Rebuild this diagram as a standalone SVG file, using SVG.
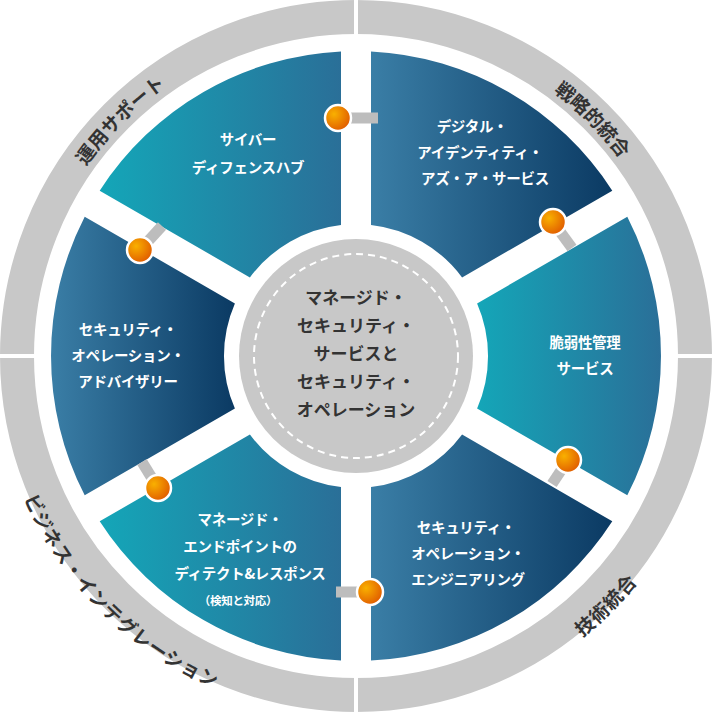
<svg xmlns="http://www.w3.org/2000/svg" width="712" height="712" viewBox="0 0 712 712">
<style>
.seg-t{font-family:"Noto Sans CJK JP","Noto Sans",sans-serif;font-weight:bold;font-size:14.5px;fill:#fff;text-anchor:middle;letter-spacing:-0.3px}
.ctr{font-family:"Noto Sans CJK JP","Noto Sans",sans-serif;font-weight:bold;font-size:17px;fill:#333;text-anchor:middle}
.ring-t{font-family:"Noto Sans CJK JP","Noto Sans",sans-serif;font-weight:bold;font-size:19px;fill:#333;text-anchor:middle}
.bar{stroke:#bdbdbd;stroke-width:11}
.dot{fill:url(#gOr);stroke:#fff;stroke-width:2.5}
</style>
<defs>
<linearGradient id="gTeal" x1="0" y1="0" x2="1" y2="0"><stop offset="0" stop-color="#14a6b8"/><stop offset="1" stop-color="#2a6f98"/></linearGradient>
<linearGradient id="gNavy" x1="0" y1="0" x2="1" y2="0"><stop offset="0" stop-color="#3a7ea6"/><stop offset="1" stop-color="#0b3a63"/></linearGradient>
<linearGradient id="gNavyR" x1="1" y1="0" x2="0" y2="0"><stop offset="0" stop-color="#0b3a63"/><stop offset="1" stop-color="#3a7ea6"/></linearGradient>
<radialGradient id="gOr" cx="0.35" cy="0.35" r="0.7"><stop offset="0" stop-color="#f9b000"/><stop offset="1" stop-color="#e05a00"/></radialGradient>
<path id="arcTop" d="M 26,356 A 330 330 0 0 1 686,356"/>
<path id="arcBot" d="M 8,356 A 348 348 0 0 0 704,356"/>
</defs>
<rect width="712" height="712" fill="#fff"/>
<g id="outer-ring">
<circle cx="356" cy="356" r="339" fill="none" stroke="#c8c8c8" stroke-width="34"/>
<line x1="356" y1="0" x2="356" y2="40" stroke="#fff" stroke-width="4"/>
<line x1="356" y1="672" x2="356" y2="712" stroke="#fff" stroke-width="4"/>
<line x1="0" y1="356" x2="40" y2="356" stroke="#fff" stroke-width="4"/>
<line x1="672" y1="356" x2="712" y2="356" stroke="#fff" stroke-width="4"/>
<text class="ring-t"><textPath href="#arcTop" startOffset="25%">運用サポート</textPath></text>
<text class="ring-t"><textPath href="#arcTop" startOffset="75%">戦略的統合</textPath></text>
<text class="ring-t" dy="13"><textPath href="#arcBot" startOffset="25%">ビジネス・インテグレーション</textPath></text>
<text class="ring-t" dy="13"><textPath href="#arcBot" startOffset="75%">技術統合</textPath></text>
</g>
<g id="center">
<circle cx="356" cy="356" r="117" fill="#c8c8c8"/>
<circle cx="356" cy="356" r="102" fill="none" stroke="#fff" stroke-width="2" stroke-dasharray="7 5"/>
<text class="ctr" x="356" y="304">マネージド・</text>
<text class="ctr" x="356" y="332">セキュリティ・</text>
<text class="ctr" x="356" y="360">サービスと</text>
<text class="ctr" x="356" y="388">セキュリティ・</text>
<text class="ctr" x="356" y="416">オペレーション</text>
</g>
<g id="seg-cyber">
<path d="M 99.7,190.7 A305 305 0 0 1 341.0,51.4 L 341.0,224.9 A132 132 0 0 0 249.9,277.4 Z" fill="url(#gTeal)"/>
<text class="seg-t" x="248" y="145">サイバー</text>
<text class="seg-t" x="248" y="173">ディフェンスハブ</text>
</g>
<g id="seg-digital">
<path d="M 371.0,51.4 A305 305 0 0 1 612.3,190.7 L 462.1,277.4 A132 132 0 0 0 371.0,224.9 Z" fill="url(#gNavy)"/>
<text class="seg-t" x="472" y="132">デジタル・</text>
<text class="seg-t" x="480" y="158">アイデンティティ・</text>
<text class="seg-t" x="485" y="184">アズ・ア・サービス</text>
</g>
<g id="seg-vuln">
<path d="M 627.3,216.7 A305 305 0 0 1 627.3,495.3 L 477.1,408.6 A132 132 0 0 0 477.1,303.4 Z" fill="url(#gTeal)"/>
<text class="seg-t" x="585" y="348">脆弱性管理</text>
<text class="seg-t" x="585" y="374">サービス</text>
</g>
<g id="seg-opseng">
<path d="M 612.3,521.3 A305 305 0 0 1 371.0,660.6 L 371.0,487.1 A132 132 0 0 0 462.1,434.6 Z" fill="url(#gNavy)"/>
<text class="seg-t" x="466" y="533">セキュリティ・</text>
<text class="seg-t" x="468" y="559">オペレーション・</text>
<text class="seg-t" x="468" y="585">エンジニアリング</text>
</g>
<g id="seg-endpoint">
<path d="M 341.0,660.6 A305 305 0 0 1 99.7,521.3 L 249.9,434.6 A132 132 0 0 0 341.0,487.1 Z" fill="url(#gTeal)"/>
<text class="seg-t" x="240" y="525">マネージド・</text>
<text class="seg-t" x="240" y="552">エンドポイントの</text>
<text class="seg-t" x="250" y="579">ディテクト&amp;レスポンス</text>
<text class="seg-t" x="238" y="605" style="font-size:11.5px">（検知と対応）</text>
</g>
<g id="seg-advisory">
<path d="M 84.7,495.3 A305 305 0 0 1 84.7,216.7 L 234.9,303.4 A132 132 0 0 0 234.9,408.6 Z" fill="url(#gNavyR)"/>
<text class="seg-t" x="128" y="335">セキュリティ・</text>
<text class="seg-t" x="128" y="361">オペレーション・</text>
<text class="seg-t" x="128" y="387">アドバイザリー</text>
</g>
<g id="connectors">
<line class="bar" x1="338" y1="118" x2="378" y2="118"/><circle class="dot" cx="338" cy="118" r="13"/>
<line class="bar" x1="553" y1="222" x2="572" y2="248"/><circle class="dot" cx="553" cy="222" r="13"/>
<line class="bar" x1="568" y1="460" x2="552" y2="484"/><circle class="dot" cx="568" cy="460" r="13"/>
<line class="bar" x1="370" y1="592" x2="336" y2="592"/><circle class="dot" cx="370" cy="592" r="13"/>
<line class="bar" x1="158" y1="488" x2="142" y2="462"/><circle class="dot" cx="158" cy="488" r="13"/>
<line class="bar" x1="140" y1="250" x2="162" y2="226"/><circle class="dot" cx="140" cy="250" r="13"/>
</g>
</svg>
